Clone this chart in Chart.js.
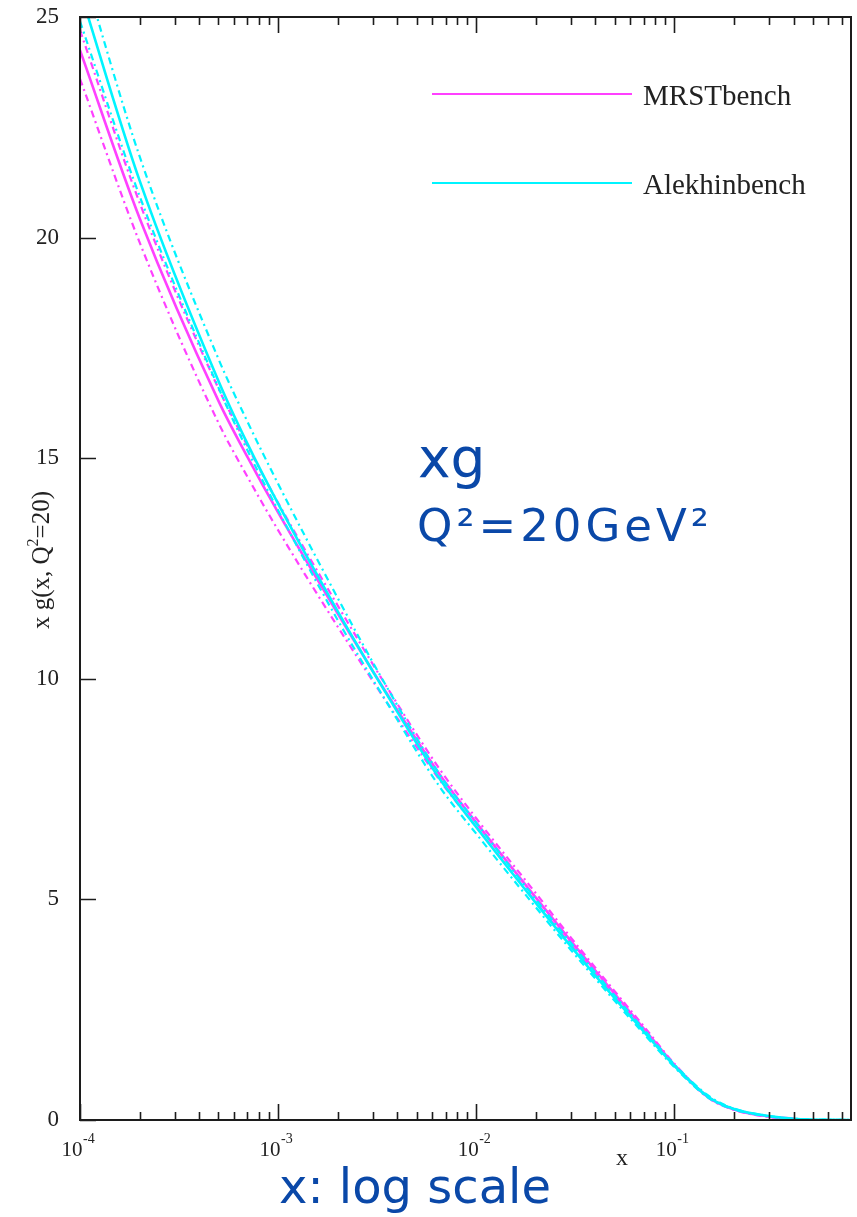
<!DOCTYPE html>
<html>
<head>
<meta charset="utf-8">
<title>xg(x, Q2=20)</title>
<script src="https://cdn.jsdelivr.net/npm/chart.js@4"></script>
<style>
  html, body { margin: 0; padding: 0; background: #fff; }
  canvas { display: block; }
</style>
</head>
<body>
<canvas id="mycanvas" width="857" height="1217"></canvas>
<script>
// gluon x*g(x) at Q^2 = 20 GeV^2, two benchmark fits with their error bands
var xValues = [0.0001, 0.0002, 0.0005, 0.0007, 0.001, 0.002, 0.0035, 0.0065, 0.01,
               0.02, 0.03, 0.05, 0.07, 0.1, 0.15, 0.2, 0.3, 0.4, 0.78];

var mrstCentral = [24.25, 20.44, 16.3, 15.03, 13.77, 11.48, 9.7, 7.85, 6.74,
                   5.04, 4.06, 2.86, 2.08, 1.25, 0.5, 0.24, 0.08, 0.03, null];
var mrstUpper   = [24.7, 20.79, 16.58, 15.28, 13.99, 11.66, 9.85, 7.97, 6.84,
                   5.14, 4.14, 2.92, 2.13, 1.28, 0.51, 0.25, 0.08, 0.03, null];
var mrstLower   = [23.6, 19.89, 15.8, 14.58, 13.37, 11.18, 9.5, 7.72, 6.64,
                   4.94, 3.98, 2.8, 2.04, 1.23, 0.49, 0.23, 0.07, 0.02, null];

var alekhinCentral = [25.6, 21.29, 16.75, 15.33, 13.97, 11.53, 9.68, 7.75, 6.64,
                      4.92, 3.94, 2.76, 2.01, 1.23, 0.51, 0.25, 0.09, 0.03, 0.0];
var alekhinUpper   = [26.3, 21.84, 17.25, 15.83, 14.42, 11.83, 9.85, 7.85, 6.74,
                      5.0, 4.02, 2.82, 2.06, 1.26, 0.54, 0.26, 0.09, 0.03, 0.0];
var alekhinLower   = [24.9, 20.94, 16.6, 15.18, 13.82, 11.33, 9.5, 7.57, 6.49,
                      4.82, 3.86, 2.7, 1.96, 1.2, 0.49, 0.24, 0.08, 0.02, 0.0];

var yTicks = [0, 5, 10, 15, 20, 25];
var xDecades = [0.0001, 0.001, 0.01, 0.1];
var xExponents = ['-4', '-3', '-2', '-1'];
var legendNames = ['MRSTbench', 'Alekhinbench'];

var magenta = '#ff40ff';
var cyan = '#00f4ff';
var dashDot = [7, 4, 2, 4];

function toPoints(ys) {
    var pts = [];
    for (var i = 0; i < xValues.length; i++) {
        pts.push({ x: xValues[i], y: ys[i] });
    }
    return pts;
}

function curve(label, ys, color, dashed) {
    return {
        label: label,
        data: toPoints(ys),
        borderColor: color,
        backgroundColor: color,
        borderWidth: dashed ? 2.2 : 2.6,
        borderDash: dashed ? dashDot : [],
        fill: false,
        pointRadius: 0,
        cubicInterpolationMode: 'monotone',
        spanGaps: false
    };
}

var serif = '"Liberation Serif", "Times New Roman", serif';
var sans = '"DejaVu Sans", sans-serif';
var blue = '#0a48a8';

// frame, inward ticks, labels, legend and notes
var framePlugin = {
    id: 'frame',
    afterDraw: function(chart) {
        var ctx = chart.ctx;
        var a = chart.chartArea;
        var xs = chart.scales.x;
        var ys = chart.scales.y;
        ctx.save();

        ctx.strokeStyle = '#1c1c1c';
        ctx.lineWidth = 2;
        ctx.strokeRect(a.left, a.top, a.right - a.left, a.bottom - a.top);

        // log ticks on bottom and top edges
        ctx.lineWidth = 1.6;
        ctx.beginPath();
        for (var d = 0; d < xDecades.length; d++) {
            for (var m = 1; m <= 9; m++) {
                var v = xDecades[d] * m;
                if (v > xs.max) break;
                var px = Math.round(xs.getPixelForValue(v)) + 0.5;
                var len = m === 1 ? 16 : 8;
                ctx.moveTo(px, a.bottom);
                ctx.lineTo(px, a.bottom - len);
                ctx.moveTo(px, a.top);
                ctx.lineTo(px, a.top + len);
            }
        }
        yTicks.forEach(function(t) {
            var py = Math.round(ys.getPixelForValue(t)) + 0.5;
            ctx.moveTo(a.left, py);
            ctx.lineTo(a.left + 16, py);
        });
        ctx.stroke();

        // y tick labels
        ctx.fillStyle = '#222';
        ctx.font = '23px ' + serif;
        ctx.textAlign = 'right';
        ctx.textBaseline = 'middle';
        yTicks.forEach(function(t) {
            ctx.fillText(String(t), a.left - 21, ys.getPixelForValue(t));
        });

        // x tick labels as 10 with exponent
        ctx.textBaseline = 'alphabetic';
        xDecades.forEach(function(v, i) {
            var px = xs.getPixelForValue(v);
            ctx.font = '21px ' + serif;
            ctx.textAlign = 'center';
            ctx.fillText('10', px - 8, a.bottom + 36);
            ctx.font = '14px ' + serif;
            ctx.textAlign = 'left';
            ctx.fillText(xExponents[i], px + 3, a.bottom + 23);
        });

        // axis titles
        ctx.font = '24px ' + serif;
        ctx.textAlign = 'center';
        ctx.fillText('x', 622, a.bottom + 45);

        ctx.save();
        ctx.translate(49, 560);
        ctx.rotate(-Math.PI / 2);
        var big = '25px ' + serif, small = '16px ' + serif;
        ctx.font = big;
        var w1 = ctx.measureText('x g(x, Q').width;
        var w3 = ctx.measureText('=20)').width;
        ctx.font = small;
        var w2 = ctx.measureText('2').width;
        var start = -(w1 + w2 + w3) / 2;
        ctx.textAlign = 'left';
        ctx.font = big;
        ctx.fillText('x g(x, Q', start, 0);
        ctx.font = small;
        ctx.fillText('2', start + w1, -11);
        ctx.font = big;
        ctx.fillText('=20)', start + w1 + w2, 0);
        ctx.restore();

        // legend
        var legendColors = [magenta, cyan];
        var legendY = [94, 183];
        ctx.lineWidth = 2;
        ctx.font = '29px ' + serif;
        ctx.textAlign = 'left';
        legendNames.forEach(function(name, i) {
            ctx.strokeStyle = legendColors[i];
            ctx.beginPath();
            ctx.moveTo(432, legendY[i]);
            ctx.lineTo(632, legendY[i]);
            ctx.stroke();
            ctx.fillStyle = '#222';
            ctx.fillText(name, 643, legendY[i] + 11);
        });

        // notes in blue
        ctx.fillStyle = blue;
        ctx.textAlign = 'left';
        ctx.font = '55px ' + sans;
        ctx.fillText('xg', 418, 477);
        ctx.font = '45px ' + sans;
        ctx.letterSpacing = '4px';
        ctx.fillText('Q\u00b2=20GeV\u00b2', 417, 541);
        ctx.letterSpacing = '0px';
        ctx.font = '48px ' + sans;
        ctx.fillText('x: log scale', 279, 1203);

        ctx.restore();
    }
};

var chartdata = {
    datasets: [
        curve('Alekhinbench', alekhinCentral, cyan, false),
        curve('Alekhinbench upper', alekhinUpper, cyan, true),
        curve('Alekhinbench lower', alekhinLower, cyan, true),
        curve('MRSTbench', mrstCentral, magenta, false),
        curve('MRSTbench upper', mrstUpper, magenta, true),
        curve('MRSTbench lower', mrstLower, magenta, true)
    ]
};

var ctx = document.getElementById('mycanvas');

var LineGraph = new Chart(ctx, {
    type: 'line',
    data: chartdata,
    options: {
        responsive: false,
        animation: false,
        layout: { padding: { left: 80, top: 17, right: 6, bottom: 97 } },
        plugins: {
            legend: { display: false },
            tooltip: { enabled: false }
        },
        scales: {
            x: { type: 'logarithmic', min: 0.0001, max: 0.78, display: false },
            y: { type: 'linear', min: 0, max: 25, display: false }
        }
    },
    plugins: [framePlugin]
});
</script>
</body>
</html>
